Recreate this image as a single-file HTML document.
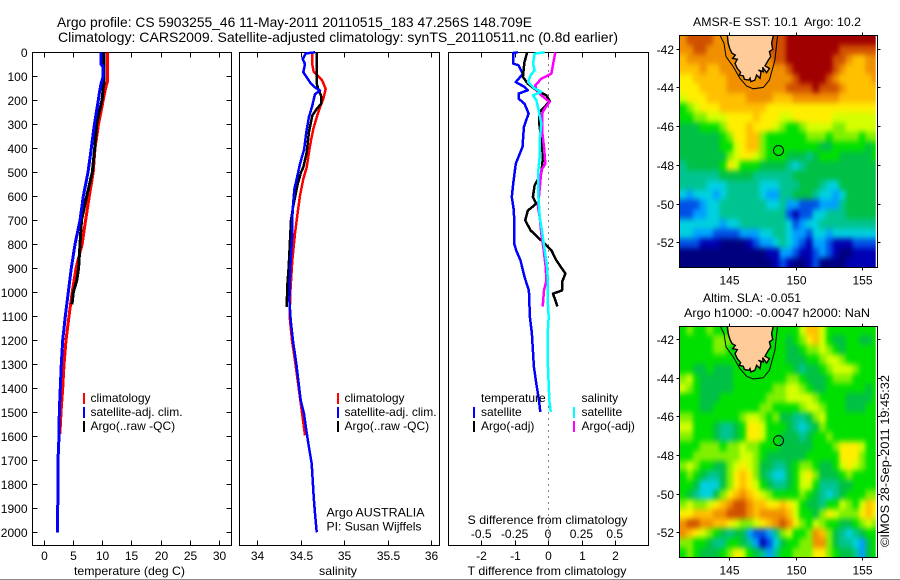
<!DOCTYPE html>
<html lang="en">
<head>
<meta charset="utf-8">
<title>Argo profile CS 5903255_46</title>
<style>
html,body{margin:0;padding:0;background:#fff;}
#chart{display:block;width:900px;height:580px;}
text{font-family:"Liberation Sans",sans-serif;font-size:12px;fill:#000;}
.big{font-size:14px;}
</style>
</head>
<body>
<svg id="chart" xmlns="http://www.w3.org/2000/svg" width="900" height="580" viewBox="0 0 900 580">
<defs>
<clipPath id="clip-sst"><rect x="679.5" y="35.5" width="196.2" height="232"/></clipPath>
<clipPath id="clip-sla"><rect x="679.5" y="326.5" width="196.2" height="231"/></clipPath>
<filter id="soften" filterUnits="userSpaceOnUse" x="640" y="0" width="260" height="580" color-interpolation-filters="sRGB"><feGaussianBlur stdDeviation="2 3"/></filter>
</defs>
<rect x="0" y="0" width="900" height="580" fill="#fff"/>
<g id="layer-lines"></g>
<text class="big" x="57" y="27" textLength="475" lengthAdjust="spacingAndGlyphs">Argo profile: CS 5903255_46 11-May-2011 20110515_183 47.256S 148.709E</text>
<text class="big" x="58" y="42" textLength="560" lengthAdjust="spacingAndGlyphs">Climatology: CARS2009. Satellite-adjusted climatology: synTS_20110511.nc (0.8d earlier)</text>
<text x="74" y="575" textLength="111" lengthAdjust="spacingAndGlyphs">temperature (deg C)</text>
<text x="319" y="575" textLength="38" lengthAdjust="spacingAndGlyphs">salinity</text>
<text x="467.5" y="575" textLength="159" lengthAdjust="spacingAndGlyphs">T difference from climatology</text>
<text x="467.5" y="524" textLength="160" lengthAdjust="spacingAndGlyphs">S difference from climatology</text>
<text x="326.5" y="516.5" textLength="98" lengthAdjust="spacingAndGlyphs">Argo AUSTRALIA</text>
<text x="326.5" y="530.5" textLength="95" lengthAdjust="spacingAndGlyphs">PI: Susan Wijffels</text>
<text x="693" y="26" textLength="168" lengthAdjust="spacingAndGlyphs">AMSR-E SST: 10.1&#160; Argo: 10.2</text>
<text x="703" y="302" textLength="98" lengthAdjust="spacingAndGlyphs">Altim. SLA: -0.051</text>
<text x="684" y="317" textLength="186" lengthAdjust="spacingAndGlyphs">Argo h1000: -0.0047 h2000: NaN</text>
<text transform="translate(889,547) rotate(-90)" x="0" y="0" textLength="172" lengthAdjust="spacingAndGlyphs">©IMOS 28-Sep-2011 19:45:32</text>
<rect x="0" y="579" width="900" height="1" fill="#888"/>
</svg>
<script>
// ---- profile tick labels ----
const depthTicks = [0,100,200,300,400,500,600,700,800,900,1000,1100,1200,1300,1400,1500,1600,1700,1800,1900,2000];
const tempTicks = [0,5,10,15,20,25,30];
const salTicks = [34,34.5,35,35.5,36];
const tDiffTicks = [-2,-1,0,1,2];
const sDiffTicks = [-0.5,-0.25,0,0.25,0.5];
const lonTicks = [145,150,155];
const latTicks = [-42,-44,-46,-48,-50,-52];

// ---- temperature panel ----
const tempClimDepth = [0,50,120,140,200,300,400,500,600,700,800,900,1000,1100,1200,1300,1400,1500,1590];
const tempClim = [10.97,10.97,10.97,10.7,10.2,9.4,8.8,8.5,7.83,7.2,6.6,5.55,4.9,4.36,3.85,3.5,3.28,3.0,2.8];
const tempSatDepth = [0,50,60,100,130,170,200,300,400,500,600,700,800,900,1000,1100,1200,1300,1400,1500,1600,1700,1800,1900,2000];
const tempSat = [9.83,9.83,10.2,10.2,9.85,9.54,9.37,8.7,8.17,7.6,6.8,6.24,5.38,4.76,4.24,3.73,3.28,3.05,2.88,2.7,2.65,2.48,2.5,2.42,2.36];
const tempArgoDepth = [0,130,150,200,250,300,400,500,600,700,800,900,950,1000,1050];
const tempArgo = [10.34,10.34,10.2,10,9.5,9.1,8.75,8.35,7.38,6.5,6.24,6.0,5.7,5.1,4.87];

// ---- salinity panel ----
const salClimDepth = [0,50,80,100,118,153,194,229,271,319,389,479,528,597,667,754,867,1000,1103,1200,1300,1408,1596];
const salClim = [34.634,34.634,34.649,34.703,34.749,34.788,34.76,34.722,34.684,34.645,34.607,34.569,34.53,34.492,34.465,34.434,34.403,34.38,34.373,34.40,34.44,34.48,34.55];
const salSatDepth = [0,5,28,49,83,104,125,146,160,174,222,271,333,403,465,528,569,639,687,754,894,1033,1117,1200,1300,1367,1450,1506,1575,1644,1714,1783,1853,1922,2000];
const salSat = [34.665,34.558,34.523,34.55,34.53,34.569,34.607,34.665,34.722,34.665,34.634,34.595,34.565,34.54,34.492,34.454,34.427,34.411,34.403,34.403,34.38,34.37,34.385,34.41,34.45,34.472,34.50,34.538,34.565,34.595,34.627,34.638,34.65,34.665,34.684];
const salArgoDepth = [0,130,153,181,215,236,264,333,417,479,500,549,639,700,783,894,978,1061];
const salArgo = [34.684,34.684,34.703,34.734,34.734,34.684,34.634,34.595,34.569,34.53,34.503,34.465,34.415,34.388,34.377,34.362,34.345,34.34];

// ---- difference panel ----
const tDiffSatDepth = [0,3,47,54,89,124,144,158,172,193,214,255,311,394,464,547,603,658,700,797,825,867,936,992,1103,1172,1311,1381,1450,1499];
const tDiffSat = [-0.9,-1.04,-1.04,-0.88,-0.75,-0.96,-0.7,-0.6,-0.88,-0.88,-0.7,-0.58,-0.72,-0.76,-0.96,-1.04,-1.08,-1.02,-1.01,-1.01,-0.95,-0.82,-0.7,-0.57,-0.54,-0.48,-0.42,-0.35,-0.27,-0.23];
const tDiffArgoDepth = [0,40,61,103,131,158,179,203,235,249,297,367,436,506,554,603,631,659,700,742,784,825,867,922,957,992,1006,1034,1059];
const tDiffArgo = [-0.62,-0.7,-0.72,-0.75,-0.6,-0.35,-0.05,0.05,-0.15,-0.25,-0.26,-0.2,-0.15,-0.2,-0.4,-0.45,-0.35,-0.6,-0.68,-0.52,-0.2,0.1,0.25,0.52,0.42,0.42,0.15,0.22,0.28];
const sDiffArgoDepth = [0,75,89,110,138,158,179,207,235,255,325,394,464,492,554,644,686,756,825,895,950,992,1059];
const sDiffArgo = [0.055,0.03,0.025,-0.05,-0.095,-0.087,-0.05,0.012,-0.025,-0.045,-0.045,-0.03,-0.02,-0.05,-0.06,-0.075,-0.062,-0.05,-0.032,-0.017,-0.012,-0.03,-0.04];
const sDiffSatDepth = [0,6,47,75,96,124,151,165,179,200,242,297,367,436,506,575,644,686,756,825,895,964,1034,1103,1172,1311,1450,1499];
const sDiffSat = [-0.025,-0.1,-0.112,-0.1,-0.13,-0.15,-0.1,-0.05,-0.112,-0.087,-0.07,-0.05,-0.062,-0.062,-0.075,-0.075,-0.067,-0.062,-0.042,-0.025,-0.007,0,-0.002,0.005,-0.002,0,0.01,0.02];

// ---- maps: colour level per half-degree cell, north to south ----
const sstLevels = [
[12,13,13,13,13,12,12,12,12,12,12,12,12,13,13,13,14,14,14,14,14,14,14,14,14,14,14,14,14,14],
[12,12,13,13,12,12,12,12,12,12,12,12,12,13,13,13,14,14,14,14,14,14,14,14,13,13,13,13,13,13],
[11,12,12,12,12,12,12,12,12,12,12,12,12,12,13,13,14,14,14,14,14,14,14,13,13,12,11,11,12,12],
[11,11,11,12,11,11,12,12,12,12,12,12,12,12,12,12,13,14,14,14,14,14,14,13,12,11,11,11,12,12],
[10,10,11,11,11,11,11,12,12,12,12,12,12,12,12,12,12,13,14,14,14,14,13,12,11,11,11,11,11,12],
[10,10,10,11,11,11,11,12,12,12,12,12,12,12,12,12,13,13,13,13,14,13,13,13,12,11,11,11,11,11],
[9,10,10,10,11,11,11,11,11,11,12,12,12,12,11,11,11,12,12,12,12,12,12,12,11,11,11,11,11,11],
[7,8,9,10,10,10,11,11,11,11,11,11,11,10,10,10,10,10,10,10,10,10,10,10,10,10,10,10,10,10],
[7,7,8,8,9,9,9,10,10,10,10,11,10,10,10,9,9,10,10,10,10,10,10,9,9,9,9,9,9,9],
[6,6,6,7,7,7,8,10,10,10,11,10,10,10,9,8,7,7,8,9,9,9,9,8,8,9,9,9,9,9],
[6,6,6,6,6,6,7,8,10,10,11,11,8,7,7,7,7,7,7,8,8,8,7,8,8,8,8,7,8,8],
[6,6,6,6,6,6,7,7,9,10,11,11,8,7,7,7,7,7,7,7,7,6,6,7,7,7,7,7,6,7],
[6,6,6,6,6,6,6,8,9,10,10,9,8,7,7,7,6,6,6,5,6,7,7,7,6,6,6,6,6,7],
[5,6,6,6,6,6,7,10,9,7,7,7,6,6,6,6,5,4,5,6,6,6,6,6,6,6,6,6,6,6],
[5,5,5,5,5,5,6,6,6,6,6,5,5,5,5,5,5,6,6,6,6,6,6,6,6,6,6,6,6,6],
[5,5,5,5,4,4,4,5,5,5,5,5,4,4,4,5,5,5,6,6,6,5,4,4,6,6,6,6,6,6],
[4,3,4,4,4,3,4,5,5,5,5,5,4,3,3,5,5,6,6,6,5,4,4,3,4,6,6,6,6,6],
[2,2,2,3,4,4,5,5,5,5,5,5,5,4,4,5,3,3,2,2,2,3,3,3,5,6,6,6,6,6],
[2,2,3,3,4,4,5,5,5,5,5,5,5,5,5,5,2,1,2,2,4,4,5,5,5,6,6,6,6,6],
[4,4,4,4,4,4,3,4,4,5,5,5,5,5,5,5,4,2,3,4,4,5,5,5,5,5,5,5,5,5],
[4,4,3,3,3,2,2,2,2,3,3,3,4,4,5,5,4,3,3,2,4,4,3,4,4,4,4,4,4,4],
[2,2,2,1,1,1,0,0,0,0,1,2,3,3,4,5,4,3,2,1,3,3,2,1,1,1,2,2,2,2],
[0,0,0,0,0,0,0,0,0,0,0,0,0,1,1,3,3,2,1,1,2,3,2,1,0,0,1,1,1,1],
[0,0,0,0,0,0,0,0,0,0,0,0,0,0,1,2,1,0,0,1,2,0,0,0,0,1,1,1,1,1]
];
const slaLevels = [
[7,8,7,7,8,7,7,7,7,7,7,7,7,7,7,7,7,7,9,11,11,9,7,7,7,7,7,7,7,7],
[7,7,7,7,7,8,8,8,7,7,7,7,7,7,7,7,6,7,8,10,11,9,7,6,6,7,7,6,6,7],
[7,7,7,7,7,8,8,7,7,7,7,7,7,7,7,7,6,6,7,8,8,9,8,7,6,7,7,7,7,7],
[7,7,7,7,7,7,7,7,7,7,7,7,7,7,7,7,6,6,6,7,7,8,9,9,8,7,7,7,7,7],
[7,7,6,6,7,6,6,6,7,7,7,7,7,7,7,7,7,6,5,6,6,7,8,9,9,9,8,7,7,7],
[8,9,7,6,6,6,6,6,7,7,7,7,7,7,7,7,8,8,7,6,6,6,7,8,8,8,7,7,7,7],
[9,8,7,6,6,6,6,6,7,7,7,7,7,7,8,8,9,9,8,7,6,6,7,7,7,7,7,7,6,7],
[7,7,7,6,6,6,7,7,7,7,7,7,7,8,8,8,9,9,9,9,8,7,7,7,7,6,6,6,6,7],
[7,7,7,6,6,7,7,7,7,7,7,7,8,8,7,7,7,7,8,9,9,8,7,7,7,6,6,6,7,7],
[8,8,7,7,7,7,7,7,7,8,9,9,8,7,8,6,6,5,5,6,8,9,7,7,7,7,7,7,7,7],
[9,9,7,7,7,6,5,5,6,7,10,10,9,7,7,7,6,5,4,5,6,8,7,7,7,7,7,7,7,7],
[8,8,7,7,7,6,5,5,6,7,10,10,9,7,7,6,6,6,5,6,7,7,8,7,7,7,7,7,7,7],
[7,7,7,8,8,8,7,8,8,9,8,8,7,7,7,6,6,6,6,6,7,7,7,8,10,10,10,9,7,7],
[7,7,8,8,8,8,8,8,8,9,9,8,7,6,6,6,6,6,6,7,7,7,7,7,10,10,10,8,7,7],
[8,9,8,7,7,6,6,8,9,10,9,8,6,6,5,5,6,7,8,8,7,6,6,7,9,10,9,8,7,7],
[7,8,7,6,5,5,6,8,10,11,10,8,6,5,4,4,6,7,9,10,8,6,6,6,7,8,7,7,7,7],
[7,7,6,4,4,4,6,8,10,11,10,9,7,6,5,5,6,7,9,9,7,5,5,5,6,6,7,7,7,7],
[7,6,5,4,4,6,8,10,11,12,11,10,9,8,7,7,7,7,8,7,6,5,4,5,6,7,7,7,8,8],
[8,9,8,8,9,10,11,12,13,13,12,11,11,10,10,11,10,9,7,6,6,5,7,7,9,8,7,9,11,10],
[10,10,11,11,11,12,12,13,13,13,12,11,12,12,12,12,11,9,7,7,6,8,10,9,8,8,8,10,11,10],
[12,13,13,12,12,11,11,10,9,8,8,9,10,11,12,13,12,10,8,7,9,8,7,7,6,6,7,8,9,8],
[12,11,10,9,8,7,6,5,6,6,3,2,2,3,5,8,9,7,7,8,12,11,8,6,5,4,5,6,7,7],
[8,8,7,7,6,5,5,7,7,6,5,3,1,2,4,6,7,7,8,8,12,12,8,6,5,5,4,3,6,7],
[7,8,7,6,6,6,7,8,10,9,7,6,5,3,5,7,7,8,8,8,10,10,8,7,6,6,5,3,6,7]
];
const landLon = [144.85,144.92,145.05,145.20,145.45,145.25,145.60,145.43,145.60,145.85,145.75,146.06,146.13,146.48,146.56,146.63,146.93,147.06,147.31,147.39,147.19,147.56,147.51,147.81,148.02,147.69,147.94,148.12,148.02,148.27,148.19,148.32];
const landLat = [-41.31,-41.72,-42.03,-42.24,-42.33,-42.50,-42.55,-42.76,-43.02,-43.22,-43.36,-43.41,-43.58,-43.62,-43.53,-43.70,-43.62,-43.36,-43.53,-43.19,-43.10,-43.19,-42.96,-43.24,-43.02,-42.89,-42.59,-42.41,-42.15,-42.03,-41.72,-41.31];
const contourLon = [144.30,144.60,144.75,145.30,145.80,146.31,146.81,147.56,148.02,148.44,148.57,148.64];
const contourLat = [-41.31,-41.72,-42.41,-42.93,-43.53,-43.93,-44.07,-44.00,-43.62,-42.59,-41.72,-41.31];
const floatLon = [148.709];
const floatLat = [-47.256];

// ---- rendering ----
const levelColors = ['#00007f','#0000b4','#0050e6','#00a0ff','#00d0e0','#00c490','#00c046','#00e000','#80f000','#d4ff00','#ffee00','#ffc000','#f09000','#d05000','#a00000'];
const SVGNS = 'http://www.w3.org/2000/svg';
const root = document.getElementById('layer-lines');
function make(tag, parent) {
  const e = document.createElementNS(SVGNS, tag);
  (parent || root).appendChild(e);
  return e;
}
// axis functions
const yDepth = d => 52.3 + 0.24 * d;
const xTemp = t => 43.5 + 5.85 * t;
const xSal = s => 257.3 + 86.8 * (s - 34);
const xTDiff = t => 548 + 33.5 * t;
const xSDiff = s => 548 + 133.5 * s;
const xLon = lon => 729.3 + 13.27 * (lon - 145);
const ySst = lat => 48.7 + 19.36 * (-42 - lat);
const ySla = lat => 339 + 19.33 * (-42 - lat);

function drawFrame(name, x0, y0, x1, y1) {
  const r = make('rect');
  
  
  r.setAttribute('x', x0); r.setAttribute('y', y0);
  r.setAttribute('width', x1 - x0); r.setAttribute('height', y1 - y0);
  r.setAttribute('fill', 'none'); r.setAttribute('stroke', '#000');
  r.setAttribute('stroke-width', '1'); r.setAttribute('shape-rendering', 'crispEdges');
}
function tickLine(x0, y0, x1, y1) {
  const l = make('line');
  
  
  l.setAttribute('x1', x0); l.setAttribute('y1', y0);
  l.setAttribute('x2', x1); l.setAttribute('y2', y1);
  l.setAttribute('stroke', '#000'); l.setAttribute('shape-rendering', 'crispEdges');
}
function tickLabel(str, x, y, anchor) {
  const t = make('text');
  
  
  t.setAttribute('x', x); t.setAttribute('y', y);
  t.setAttribute('text-anchor', anchor);
  t.textContent = str;
}
function drawSeries(name, xs, depths, xf, color, width) {
  const p = make('polyline');
  
  
  p.setAttribute('points', xs.map((v, i) => xf(v).toFixed(1) + ',' + yDepth(depths[i]).toFixed(1)).join(' '));
  p.setAttribute('fill', 'none');
  p.setAttribute('stroke', color);
  p.setAttribute('stroke-width', width);
  p.setAttribute('stroke-linejoin', 'round');
  p.setAttribute('shape-rendering', 'crispEdges');
}
function legendEntry(label, sx, tx, base, color) {
  const r = make('rect');
  
  
  r.setAttribute('x', sx - 1); r.setAttribute('y', base - 9);
  r.setAttribute('width', 2); r.setAttribute('height', 11);
  r.setAttribute('fill', color);
  const t = make('text');
  
  
  t.setAttribute('x', tx); t.setAttribute('y', base);
  t.textContent = label;
}
function legendHeading(label, x, base) {
  const t = make('text');
  
  
  t.setAttribute('x', x); t.setAttribute('y', base);
  t.textContent = label;
}

const PT = 52.5, PB = 545.5;
// panel frames
drawFrame('temperature-panel-frame', 32.5, PT, 231.5, PB);
drawFrame('salinity-panel-frame', 239.5, PT, 439.5, PB);
drawFrame('difference-panel-frame', 448.5, PT, 648.5, PB);

// temperature panel ticks
depthTicks.forEach(d => {
  const y = Math.round(yDepth(d)) + 0.5;
  tickLine(32.5, y, 37.5, y);
  tickLine(226.5, y, 231.5, y);
  tickLabel(String(d), 27.5, y + 4.5, 'end');
});
tempTicks.forEach(t => {
  const x = Math.round(xTemp(t)) + 0.5;
  tickLine(x, PT, x, PT + 5);
  tickLine(x, PB, x, PB - 5);
  tickLabel(String(t), x, 560, 'middle');
});
salTicks.forEach(s => {
  const x = Math.round(xSal(s)) + 0.5;
  tickLine(x, PT, x, PT + 5);
  tickLine(x, PB, x, PB - 5);
  tickLabel(String(s), x, 560, 'middle');
});
tDiffTicks.forEach(t => {
  const x = Math.round(xTDiff(t)) + 0.5;
  tickLine(x, PT, x, PT + 5);
  tickLine(x, PB, x, PB - 5);
  tickLabel(String(t), x, 560, 'middle');
});
sDiffTicks.forEach(s => {
  tickLabel(String(s), xSDiff(s), 538, 'middle');
});

// zero line
const zeroLine = make('line');


zeroLine.setAttribute('x1', xTDiff(0) + 0.5); zeroLine.setAttribute('x2', xTDiff(0) + 0.5);
zeroLine.setAttribute('y1', PT); zeroLine.setAttribute('y2', PB);
zeroLine.setAttribute('stroke', '#000');
zeroLine.setAttribute('stroke-dasharray', '1 5');
zeroLine.setAttribute('shape-rendering', 'crispEdges');

// series
drawSeries('temperature-climatology-line', tempClim, tempClimDepth, xTemp, '#ff0000', 3);
drawSeries('temperature-argo-line', tempArgo, tempArgoDepth, xTemp, '#000000', 3);
drawSeries('temperature-satellite-line', tempSat, tempSatDepth, xTemp, '#0000ff', 3);
drawSeries('salinity-climatology-line', salClim, salClimDepth, xSal, '#ff0000', 2.5);
drawSeries('salinity-argo-line', salArgo, salArgoDepth, xSal, '#000000', 2.5);
drawSeries('salinity-satellite-line', salSat, salSatDepth, xSal, '#0000ff', 2.5);
drawSeries('t-difference-satellite-line', tDiffSat, tDiffSatDepth, xTDiff, '#0000ff', 2.5);
drawSeries('t-difference-argo-line', tDiffArgo, tDiffArgoDepth, xTDiff, '#000000', 2.5);
drawSeries('s-difference-argo-line', sDiffArgo, sDiffArgoDepth, xSDiff, '#ff00ff', 2.5);
drawSeries('s-difference-satellite-line', sDiffSat, sDiffSatDepth, xSDiff, '#00ffff', 2.5);

// legends
[[84,90.5],[338,344.5]].forEach(pos => {
  legendEntry('climatology', pos[0], pos[1], 402, '#ff0000');
  legendEntry('satellite-adj. clim.', pos[0], pos[1], 416, '#0000ff');
  legendEntry('Argo(..raw -QC)', pos[0], pos[1], 430, '#000000');
});
legendHeading('temperature', 481, 402);
legendHeading('salinity', 581.5, 402);
legendEntry('satellite', 474, 481, 416, '#0000ff');
legendEntry('Argo(-adj)', 474, 481, 430, '#000000');
legendEntry('satellite', 574, 581.5, 416, '#00ffff');
legendEntry('Argo(-adj)', 574, 581.5, 430, '#ff00ff');

// maps
function drawMap(prefix, levels, yLat, clipId, top, bottom) {
  const g = make('g');
  
  
  g.setAttribute('clip-path', 'url(#' + clipId + ')');
  const cells = make('g', g);
  
  
  cells.setAttribute('filter', 'url(#soften)');
  const lat0 = -41.3, lon0 = 141.27, step = 0.5;
  const lastRow = levels.length - 1;
  levels.forEach((row, i) => {
    const lastCol = row.length - 1;
    row.forEach((lv, j) => {
      const c = make('rect', cells);
      
      
      // outermost cells run past the clip so the softening does not fade at the frame
      const x0 = xLon(lon0 + j * step) - (j === 0 ? 14 : 0);
      const x1 = xLon(lon0 + (j + 1) * step) + (j === lastCol ? 14 : 0);
      const y0 = yLat(lat0 - i * step) - (i === 0 ? 14 : 0);
      const y1 = yLat(lat0 - (i + 1) * step) + (i === lastRow ? 14 : 0);
      c.setAttribute('x', x0.toFixed(2)); c.setAttribute('y', y0.toFixed(2));
      c.setAttribute('width', (x1 - x0 + 0.4).toFixed(2));
      c.setAttribute('height', (y1 - y0 + 0.4).toFixed(2));
      c.setAttribute('fill', levelColors[lv]);
      c.setAttribute('shape-rendering', 'crispEdges');
    });
  });
  const land = make('polygon', g);
  
  
  land.setAttribute('points', landLon.map((v, i) => xLon(v).toFixed(1) + ',' + yLat(landLat[i]).toFixed(1)).join(' '));
  land.setAttribute('fill', '#ffcc99');
  land.setAttribute('stroke', '#000');
  land.setAttribute('stroke-width', '1.4');
  const contour = make('polyline', g);
  
  
  contour.setAttribute('points', contourLon.map((v, i) => xLon(v).toFixed(1) + ',' + yLat(contourLat[i]).toFixed(1)).join(' '));
  contour.setAttribute('fill', 'none');
  contour.setAttribute('stroke', '#000');
  contour.setAttribute('stroke-width', '1');
  const marker = make('circle', g);
  
  
  marker.setAttribute('cx', xLon(floatLon[0]));
  marker.setAttribute('cy', yLat(floatLat[0]));
  marker.setAttribute('r', 5);
  marker.setAttribute('fill', 'none');
  marker.setAttribute('stroke', '#000');
  marker.setAttribute('stroke-width', '1');
  drawFrame(prefix + '-map-frame', 679.5, top, 877.5, bottom);
  lonTicks.forEach(lon => {
    const x = Math.round(xLon(lon)) + 0.5;
    tickLine(x, top - 3, x, top);
    tickLine(x, bottom, x, bottom + 3);
    tickLabel(String(lon), x, bottom + 17, 'middle');
  });
  latTicks.forEach(lat => {
    const y = Math.round(yLat(lat)) + 0.5;
    tickLine(676.5, y, 679.5, y);
    tickLine(877.5, y, 880.5, y);
    tickLabel(String(lat), 674, y + 4.5, 'end');
  });
}
drawMap('sst', sstLevels, ySst, 'clip-sst', 35.5, 267.5);
drawMap('sla', slaLevels, ySla, 'clip-sla', 326.5, 557.5);
</script>
</body>
</html>
